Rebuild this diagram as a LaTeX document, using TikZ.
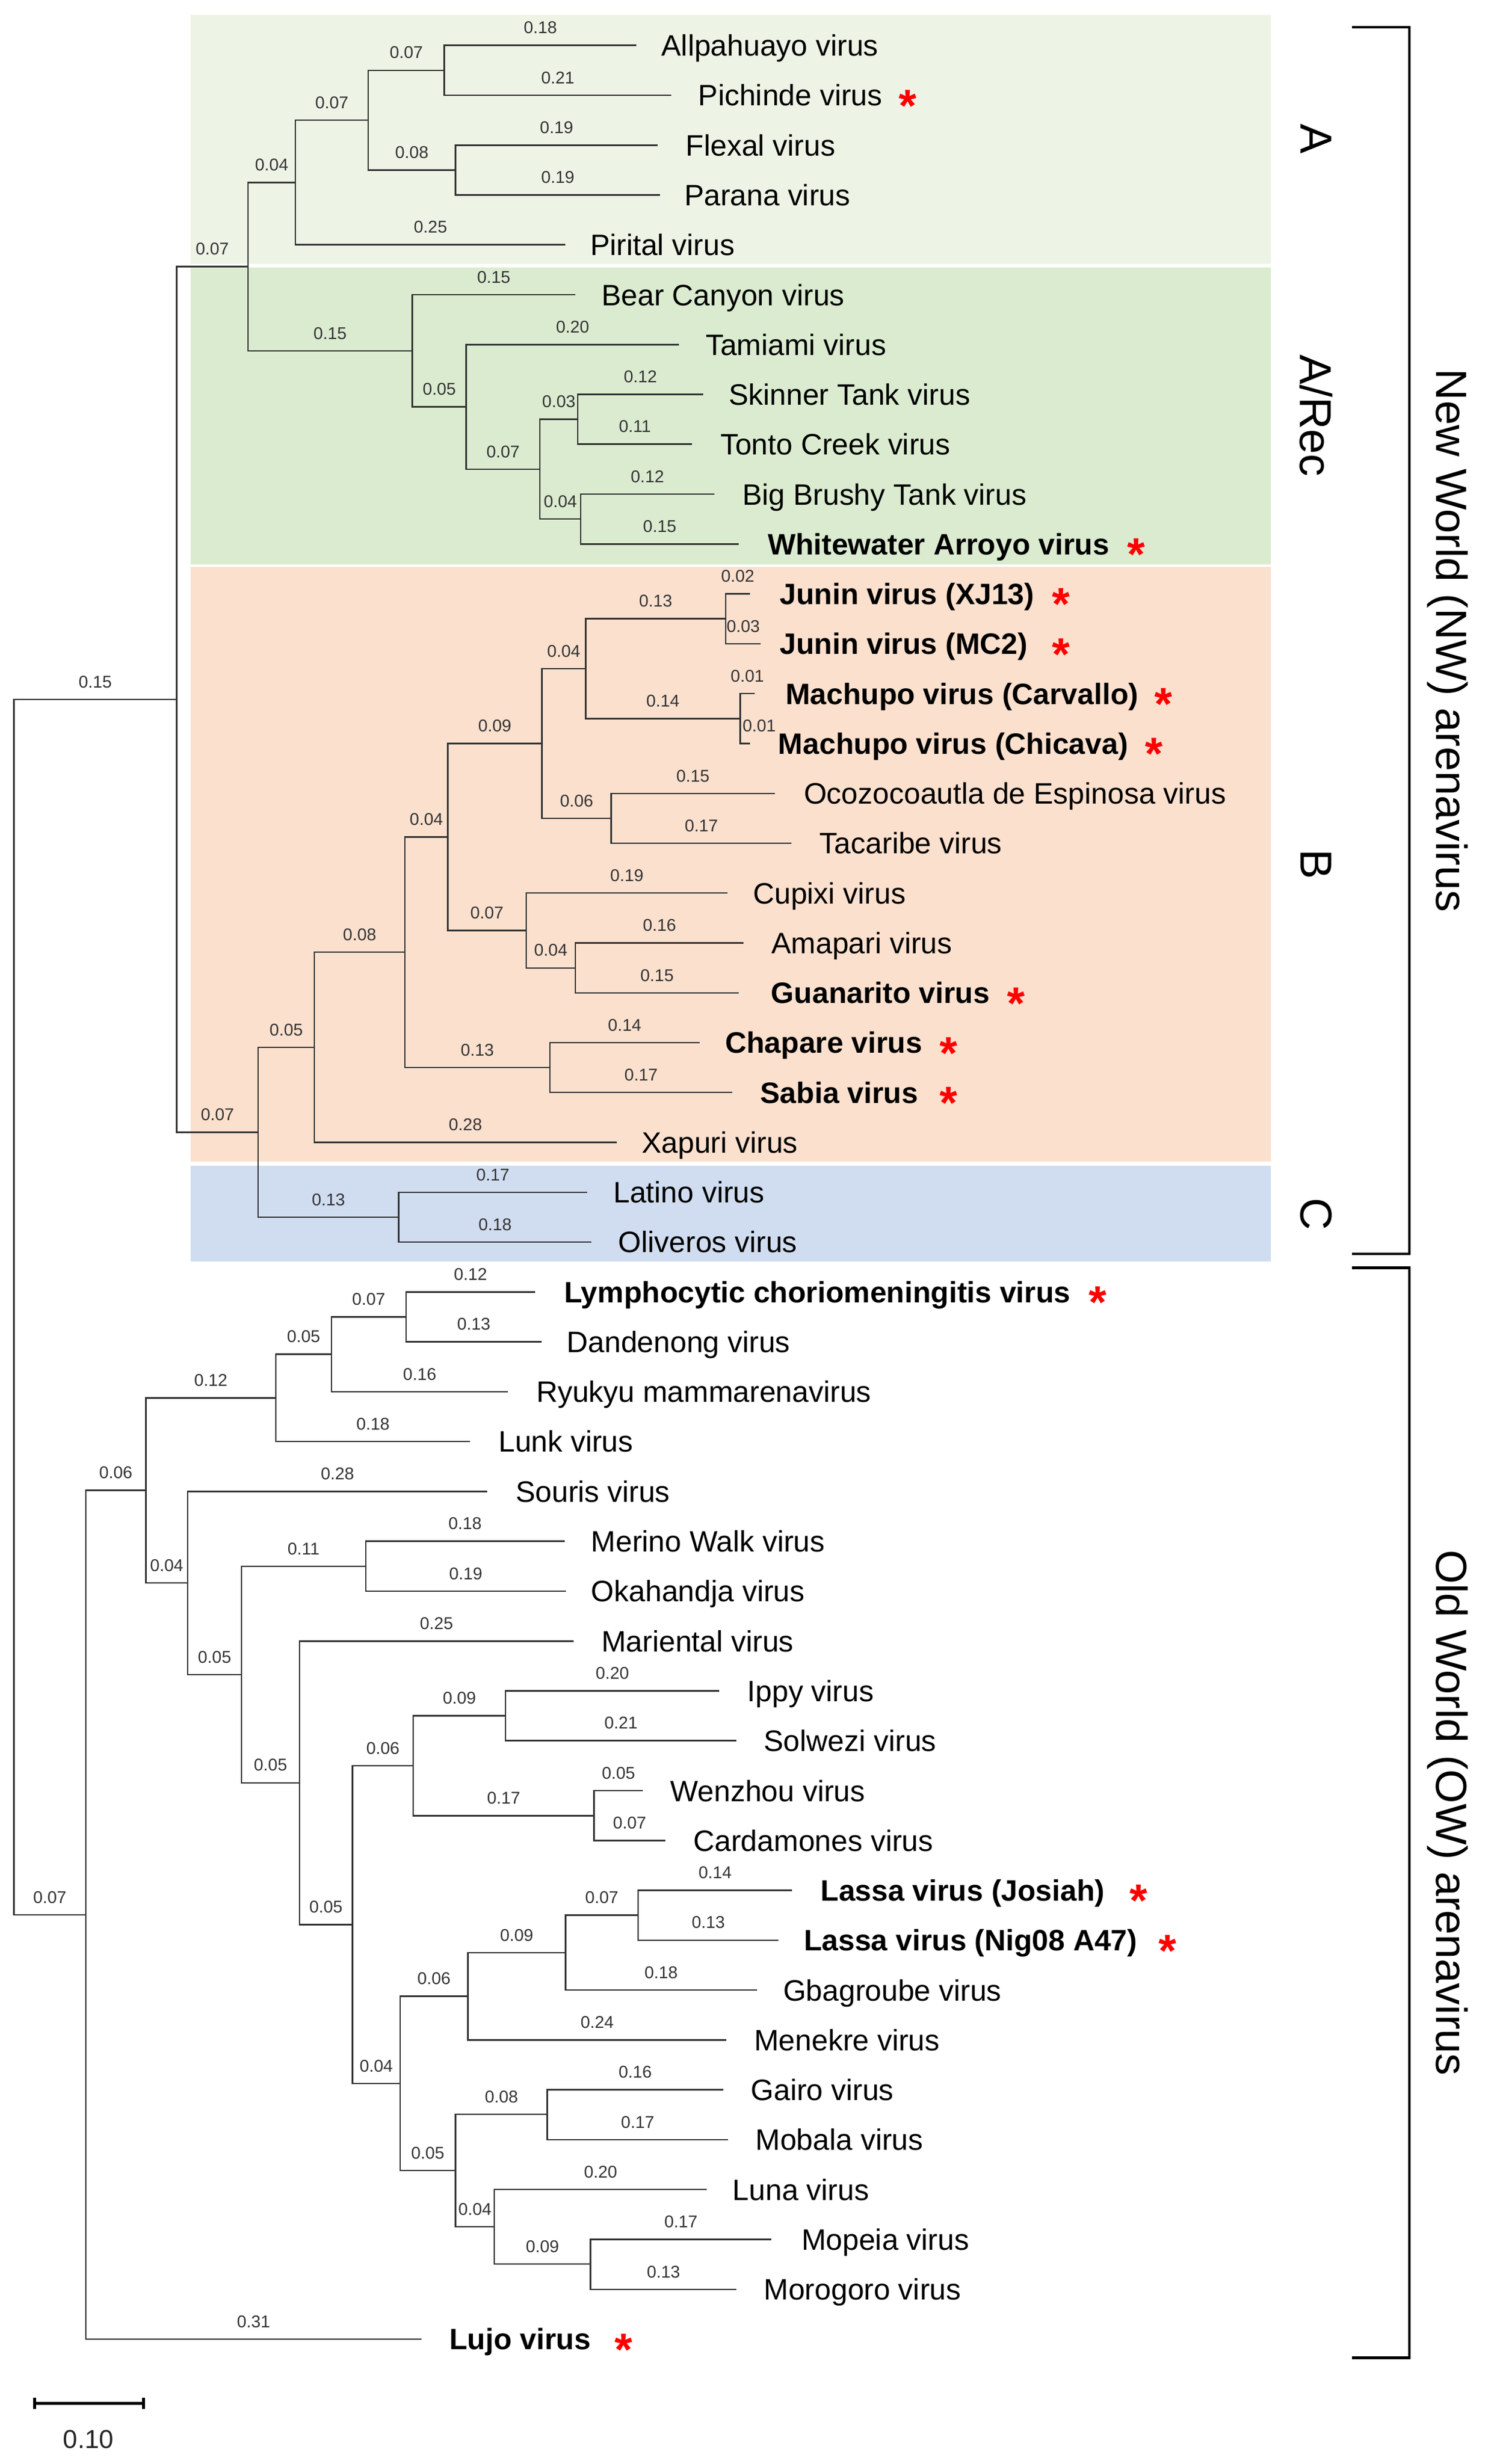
\documentclass[tikz,border=0pt]{standalone}
\usepackage{fontspec}
\setmainfont{Liberation Sans}
\usetikzlibrary{positioning}

\definecolor{cladeA}{RGB}{237,244,230}
\definecolor{cladeR}{RGB}{219,235,208}
\definecolor{cladeB}{RGB}{251,224,206}
\definecolor{cladeC}{RGB}{208,221,240}

\tikzset{
  elbow/.style={draw=black!80, line width=0.7pt, to path={|- (\tikztotarget) \tikztonodes}},
  bl/.style={font=\fontsize{8.2}{10}\selectfont, text=black!80, anchor=south, inner sep=0pt, yshift=5.2pt, pos=0.75},
  leaf/.style={anchor=base west, inner sep=0pt, yshift=-5.1pt, font=\fontsize{14.2}{17}\selectfont},
  hot/.style={leaf, font=\fontsize{14.2}{17}\selectfont\bfseries},
  redstar/.style={anchor=base, inner sep=0pt, yshift=-12.6pt, text=red, font=\fontsize{22}{22}\selectfont\bfseries},
  clade/.style={rotate=-90, inner sep=0pt, font=\fontsize{21.5}{25}\selectfont},
  world/.style={rotate=-90, inner sep=0pt, font=\fontsize{21}{25}\selectfont},
  bracket/.style={draw=black, line width=1.2pt},
}

\begin{document}
\begin{tikzpicture}[x=0.02681cm, y=-0.02681cm]
  \useasboundingbox (0,0) rectangle (942.9,1553.1);

  % clade shading
  \fill[cladeA] (120,9.2) rectangle (800.6,166.2);
  \fill[cladeR] (120,168.5) rectangle (800.6,355.7);
  \fill[cladeB] (120,357.4) rectangle (800.6,732.3);
  \fill[cladeC] (120,734.8) rectangle (800.6,795.3);

  % inner nodes
  \coordinate (r) at (8.7,823.9);
  \coordinate (nw) at (111.3,440.9);
  \coordinate (aar) at (156.2,168.1);
  \coordinate (a) at (186.2,115.0);
  \coordinate (a1) at (232.0,75.8);
  \coordinate (a11) at (280.0,44.3);
  \coordinate (a12) at (287.0,107.2);
  \coordinate (arec) at (259.8,221.1);
  \coordinate (b1) at (293.8,256.5);
  \coordinate (b2) at (340.2,295.8);
  \coordinate (b21) at (364.0,264.3);
  \coordinate (b22) at (365.9,327.2);
  \coordinate (bc) at (162.7,713.7);
  \coordinate (b) at (198.0,660.2);
  \coordinate (bb) at (255.2,600.2);
  \coordinate (bbb) at (282.1,527.6);
  \coordinate (jm) at (341.5,468.6);
  \coordinate (jmm) at (369.0,421.5);
  \coordinate (jun) at (457.2,390.0);
  \coordinate (mac) at (466.4,452.9);
  \coordinate (ot) at (385.1,515.8);
  \coordinate (cag) at (331.6,586.5);
  \coordinate (ag) at (362.5,610.1);
  \coordinate (chsa) at (346.4,672.9);
  \coordinate (lo) at (251.2,767.2);
  \coordinate (ow) at (54.1,1206.9);
  \coordinate (o1) at (91.9,939.4);
  \coordinate (o11) at (173.8,881.1);
  \coordinate (o111) at (208.8,853.6);
  \coordinate (ld) at (255.8,830.1);
  \coordinate (o12) at (118.2,997.7);
  \coordinate (o121) at (152.2,1055.5);
  \coordinate (mo) at (230.4,987.2);
  \coordinate (o122) at (188.7,1123.7);
  \coordinate (o123) at (222.1,1213.1);
  \coordinate (o124) at (260.4,1113.0);
  \coordinate (is) at (318.6,1081.5);
  \coordinate (wc) at (374.3,1144.4);
  \coordinate (o125) at (252.1,1313.2);
  \coordinate (o126) at (294.8,1258.2);
  \coordinate (o128) at (356.3,1230.8);
  \coordinate (la) at (402.1,1207.2);
  \coordinate (o127) at (287.0,1368.1);
  \coordinate (gm) at (344.9,1332.7);
  \coordinate (o129) at (311.5,1403.5);
  \coordinate (mm) at (372.1,1427.1);

  % tips
  \coordinate (allp) at (401.0,28.6);
  \coordinate (pich) at (423.0,60.0);
  \coordinate (flex) at (414.4,91.5);
  \coordinate (para) at (416.0,122.9);
  \coordinate (piri) at (356.3,154.3);
  \coordinate (bear) at (362.5,185.8);
  \coordinate (tami) at (427.8,217.2);
  \coordinate (skin) at (443.0,248.6);
  \coordinate (tont) at (436.1,280.0);
  \coordinate (bigb) at (450.0,311.5);
  \coordinate (whit) at (465.5,342.9);
  \coordinate (junx) at (472.6,374.3);
  \coordinate (junm) at (479.4,405.8);
  \coordinate (macc) at (475.4,437.2);
  \coordinate (mach) at (472.5,468.6);
  \coordinate (ocoz) at (488.1,500.1);
  \coordinate (taca) at (498.8,531.5);
  \coordinate (cupi) at (458.4,562.9);
  \coordinate (amap) at (468.6,594.3);
  \coordinate (guan) at (465.5,625.8);
  \coordinate (chap) at (440.8,657.2);
  \coordinate (sabi) at (461.5,688.6);
  \coordinate (xapu) at (388.5,720.1);
  \coordinate (lati) at (369.9,751.5);
  \coordinate (oliv) at (372.7,782.9);
  \coordinate (lcmv) at (337.2,814.4);
  \coordinate (dand) at (341.2,845.8);
  \coordinate (ryuk) at (320.1,877.2);
  \coordinate (lunk) at (296.3,908.6);
  \coordinate (sour) at (307.1,940.1);
  \coordinate (meri) at (355.7,971.5);
  \coordinate (okah) at (356.6,1002.9);
  \coordinate (mari) at (361.3,1034.4);
  \coordinate (ippy) at (453.1,1065.8);
  \coordinate (solw) at (464.0,1097.2);
  \coordinate (wenz) at (405.2,1128.7);
  \coordinate (card) at (419.1,1160.1);
  \coordinate (lasj) at (499.1,1191.5);
  \coordinate (lasn) at (490.6,1222.9);
  \coordinate (gbag) at (476.9,1254.4);
  \coordinate (mene) at (457.8,1285.8);
  \coordinate (gair) at (455.6,1317.2);
  \coordinate (moba) at (458.7,1348.7);
  \coordinate (luna) at (445.4,1380.1);
  \coordinate (mope) at (486.0,1411.5);
  \coordinate (moro) at (464.0,1443.0);
  \coordinate (lujo) at (265.4,1474.4);

  % branches
  \path (r) edge[elbow] node[bl]{0.15} (nw)
            edge[elbow] node[bl]{0.07} (ow);
  \path (nw) edge[elbow] node[bl]{0.07} (aar)
             edge[elbow] node[bl]{0.07} (bc);
  \path (aar) edge[elbow] node[bl]{0.04} (a)
              edge[elbow] node[bl]{0.15} (arec);
  \path (a) edge[elbow] node[bl]{0.07} (a1)
            edge[elbow] node[bl]{0.25} (piri);
  \path (a1) edge[elbow] node[bl]{0.07} (a11)
             edge[elbow] node[bl]{0.08} (a12);
  \path (a11) edge[elbow] node[bl]{0.18} (allp)
              edge[elbow] node[bl]{0.21} (pich);
  \path (a12) edge[elbow] node[bl]{0.19} (flex)
              edge[elbow] node[bl]{0.19} (para);
  \path (arec) edge[elbow] node[bl]{0.15} (bear)
               edge[elbow] node[bl]{0.05} (b1);
  \path (b1) edge[elbow] node[bl]{0.20} (tami)
             edge[elbow] node[bl]{0.07} (b2);
  \path (b2) edge[elbow] node[bl]{0.03} (b21)
             edge[elbow] node[bl]{0.04} (b22);
  \path (b21) edge[elbow] node[bl]{0.12} (skin)
              edge[elbow] node[bl]{0.11} (tont);
  \path (b22) edge[elbow] node[bl]{0.12} (bigb)
              edge[elbow] node[bl]{0.15} (whit);
  \path (bc) edge[elbow] node[bl]{0.05} (b)
             edge[elbow] node[bl]{0.13} (lo);
  \path (b) edge[elbow] node[bl]{0.08} (bb)
            edge[elbow] node[bl]{0.28} (xapu);
  \path (bb) edge[elbow] node[bl]{0.04} (bbb)
             edge[elbow] node[bl]{0.13} (chsa);
  \path (bbb) edge[elbow] node[bl]{0.09} (jm)
              edge[elbow] node[bl]{0.07} (cag);
  \path (jm) edge[elbow] node[bl]{0.04} (jmm)
             edge[elbow] node[bl]{0.06} (ot);
  \path (jmm) edge[elbow] node[bl]{0.13} (jun)
              edge[elbow] node[bl]{0.14} (mac);
  \path (jun) edge[elbow] node[bl]{0.02} (junx)
              edge[elbow] node[bl]{0.03} (junm);
  \path (mac) edge[elbow] node[bl]{0.01} (macc)
              edge[elbow] node[bl, xshift=2.4mm]{0.01} (mach);
  \path (ot) edge[elbow] node[bl]{0.15} (ocoz)
             edge[elbow] node[bl]{0.17} (taca);
  \path (cag) edge[elbow] node[bl]{0.19} (cupi)
              edge[elbow] node[bl]{0.04} (ag);
  \path (ag) edge[elbow] node[bl]{0.16} (amap)
             edge[elbow] node[bl]{0.15} (guan);
  \path (chsa) edge[elbow] node[bl]{0.14} (chap)
               edge[elbow] node[bl]{0.17} (sabi);
  \path (lo) edge[elbow] node[bl]{0.17} (lati)
             edge[elbow] node[bl]{0.18} (oliv);
  \path (ow) edge[elbow] node[bl]{0.06} (o1)
             edge[elbow] node[bl]{0.31} (lujo);
  \path (o1) edge[elbow] node[bl]{0.12} (o11)
             edge[elbow] node[bl]{0.04} (o12);
  \path (o11) edge[elbow] node[bl]{0.05} (o111)
              edge[elbow] node[bl]{0.18} (lunk);
  \path (o111) edge[elbow] node[bl]{0.07} (ld)
               edge[elbow] node[bl]{0.16} (ryuk);
  \path (ld) edge[elbow] node[bl]{0.12} (lcmv)
             edge[elbow] node[bl]{0.13} (dand);
  \path (o12) edge[elbow] node[bl]{0.28} (sour)
              edge[elbow] node[bl]{0.05} (o121);
  \path (o121) edge[elbow] node[bl]{0.11} (mo)
               edge[elbow] node[bl]{0.05} (o122);
  \path (mo) edge[elbow] node[bl]{0.18} (meri)
             edge[elbow] node[bl]{0.19} (okah);
  \path (o122) edge[elbow] node[bl]{0.25} (mari)
               edge[elbow] node[bl]{0.05} (o123);
  \path (o123) edge[elbow] node[bl]{0.06} (o124)
               edge[elbow] node[bl]{0.04} (o125);
  \path (o124) edge[elbow] node[bl]{0.09} (is)
               edge[elbow] node[bl]{0.17} (wc);
  \path (is) edge[elbow] node[bl]{0.20} (ippy)
             edge[elbow] node[bl]{0.21} (solw);
  \path (wc) edge[elbow] node[bl]{0.05} (wenz)
             edge[elbow] node[bl]{0.07} (card);
  \path (o125) edge[elbow] node[bl]{0.06} (o126)
               edge[elbow] node[bl]{0.05} (o127);
  \path (o126) edge[elbow] node[bl]{0.09} (o128)
               edge[elbow] node[bl]{0.24} (mene);
  \path (o128) edge[elbow] node[bl]{0.07} (la)
               edge[elbow] node[bl]{0.18} (gbag);
  \path (la) edge[elbow] node[bl]{0.14} (lasj)
             edge[elbow] node[bl]{0.13} (lasn);
  \path (o127) edge[elbow] node[bl]{0.08} (gm)
               edge[elbow] node[bl]{0.04} (o129);
  \path (gm) edge[elbow] node[bl]{0.16} (gair)
             edge[elbow] node[bl]{0.17} (moba);
  \path (o129) edge[elbow] node[bl]{0.20} (luna)
               edge[elbow] node[bl]{0.09} (mm);
  \path (mm) edge[elbow] node[bl]{0.17} (mope)
             edge[elbow] node[bl]{0.13} (moro);

  % leaf names
  \node[leaf] (allp-l) at (416.6,28.6) {Allpahuayo virus};
  \node[leaf] (pich-l) at (439.8,60.0) {Pichinde virus};
  \node[leaf] (flex-l) at (432.0,91.5) {Flexal virus};
  \node[leaf] (para-l) at (431.0,122.9) {Parana virus};
  \node[leaf] (piri-l) at (371.7,154.3) {Pirital virus};
  \node[leaf] (bear-l) at (378.8,185.8) {Bear Canyon virus};
  \node[leaf] (tami-l) at (444.4,217.2) {Tamiami virus};
  \node[leaf] (skin-l) at (459.0,248.6) {Skinner Tank virus};
  \node[leaf] (tont-l) at (453.7,280.0) {Tonto Creek virus};
  \node[leaf] (bigb-l) at (467.6,311.5) {Big Brushy Tank virus};
  \node[hot]  (whit-l) at (483.5,342.9) {Whitewater Arroyo virus};
  \node[hot]  (junx-l) at (491.1,374.3) {Junin virus (XJ13)};
  \node[hot]  (junm-l) at (491.1,405.8) {Junin virus (MC2)};
  \node[hot]  (macc-l) at (494.7,437.2) {Machupo virus (Carvallo)};
  \node[hot]  (mach-l) at (490.2,468.6) {Machupo virus (Chicava)};
  \node[leaf] (ocoz-l) at (506.3,500.1) {Ocozocoautla de Espinosa virus};
  \node[leaf] (taca-l) at (516.3,531.5) {Tacaribe virus};
  \node[leaf] (cupi-l) at (474.3,562.9) {Cupixi virus};
  \node[leaf] (amap-l) at (485.9,594.3) {Amapari virus};
  \node[hot]  (guan-l) at (485.7,625.8) {Guanarito virus};
  \node[hot]  (chap-l) at (456.8,657.2) {Chapare virus};
  \node[hot]  (sabi-l) at (478.9,688.6) {Sabia virus};
  \node[leaf] (xapu-l) at (404.2,720.1) {Xapuri virus};
  \node[leaf] (lati-l) at (386.3,751.5) {Latino virus};
  \node[leaf] (oliv-l) at (389.4,782.9) {Oliveros virus};
  \node[hot]  (lcmv-l) at (355.3,814.4) {Lymphocytic choriomeningitis virus};
  \node[leaf] (dand-l) at (356.9,845.8) {Dandenong virus};
  \node[leaf] (ryuk-l) at (337.7,877.2) {Ryukyu mammarenavirus};
  \node[leaf] (lunk-l) at (313.9,908.6) {Lunk virus};
  \node[leaf] (sour-l) at (324.7,940.1) {Souris virus};
  \node[leaf] (meri-l) at (372.3,971.5) {Merino Walk virus};
  \node[leaf] (okah-l) at (372.3,1002.9) {Okahandja virus};
  \node[leaf] (mari-l) at (378.8,1034.4) {Mariental virus};
  \node[leaf] (ippy-l) at (470.7,1065.8) {Ippy virus};
  \node[leaf] (solw-l) at (481.1,1097.2) {Solwezi virus};
  \node[leaf] (wenz-l) at (422.1,1128.7) {Wenzhou virus};
  \node[leaf] (card-l) at (436.7,1160.1) {Cardamones virus};
  \node[hot]  (lasj-l) at (516.9,1191.5) {Lassa virus (Josiah)};
  \node[hot]  (lasn-l) at (506.3,1222.9) {Lassa virus (Nig08 A47)};
  \node[leaf] (gbag-l) at (493.2,1254.4) {Gbagroube virus};
  \node[leaf] (mene-l) at (475.0,1285.8) {Menekre virus};
  \node[leaf] (gair-l) at (472.9,1317.2) {Gairo virus};
  \node[leaf] (moba-l) at (475.9,1348.7) {Mobala virus};
  \node[leaf] (luna-l) at (461.4,1380.1) {Luna virus};
  \node[leaf] (mope-l) at (504.8,1411.5) {Mopeia virus};
  \node[leaf] (moro-l) at (481.1,1443.0) {Morogoro virus};
  \node[hot]  (lujo-l) at (283.0,1474.4) {Lujo virus};

  % pathogen marks
  \node[redstar] (pich-s) at (572.0,60.0) {*};
  \node[redstar] (whit-s) at (716.1,342.9) {*};
  \node[redstar] (junx-s) at (668.4,374.3) {*};
  \node[redstar] (junm-s) at (668.4,405.8) {*};
  \node[redstar] (macc-s) at (733.1,437.2) {*};
  \node[redstar] (mach-s) at (727.1,468.6) {*};
  \node[redstar] (guan-s) at (640.1,625.8) {*};
  \node[redstar] (chap-s) at (597.6,657.2) {*};
  \node[redstar] (sabi-s) at (597.6,688.6) {*};
  \node[redstar] (lcmv-s) at (691.8,814.4) {*};
  \node[redstar] (lasj-s) at (717.3,1191.5) {*};
  \node[redstar] (lasn-s) at (735.6,1222.9) {*};
  \node[redstar] (lujo-s) at (392.8,1474.4) {*};

  % clades and groups
  \node[clade] (cA) at (829.5,87.7) {A};
  \node[clade] (cR) at (829.5,262.1) {A/Rec};
  \node[clade] (cB) at (829.5,544.9) {B};
  \node[clade] (cC) at (829.5,765.1) {C};

  \coordinate (nw1) at (851.7,17.2);
  \coordinate (nw2) at (888.2,17.2);
  \coordinate (nw3) at (888.2,790.3);
  \coordinate (nw4) at (851.7,790.3);
  \draw[bracket] (nw1) -- (nw2) -- (nw3) -- (nw4);
  \coordinate (ow1) at (851.7,799.1);
  \coordinate (ow2) at (888.2,799.1);
  \coordinate (ow3) at (888.2,1486.1);
  \coordinate (ow4) at (851.7,1486.1);
  \draw[bracket] (ow1) -- (ow2) -- (ow3) -- (ow4);
  \node[world] (nwl) at (912.0,403.8) {New World (NW) arenavirus};
  \node[world] (owl) at (912.0,1142.6) {Old World (OW) arenavirus};

  % scale bar
  \coordinate (sb1) at (21.7,1514.9);
  \coordinate (sb2) at (90.6,1514.9);
  \draw[line width=1.5pt] (sb1) -- (sb2);
  \draw[line width=1.4pt] ([yshift=2.7pt]sb1) -- ([yshift=-2.7pt]sb1);
  \draw[line width=1.4pt] ([yshift=2.7pt]sb2) -- ([yshift=-2.7pt]sb2);
  \node[font=\fontsize{12.5}{14}\selectfont, text=black!85, inner sep=0pt] (sbl) at (55.7,1537.4) {0.10};
\end{tikzpicture}
\end{document}
